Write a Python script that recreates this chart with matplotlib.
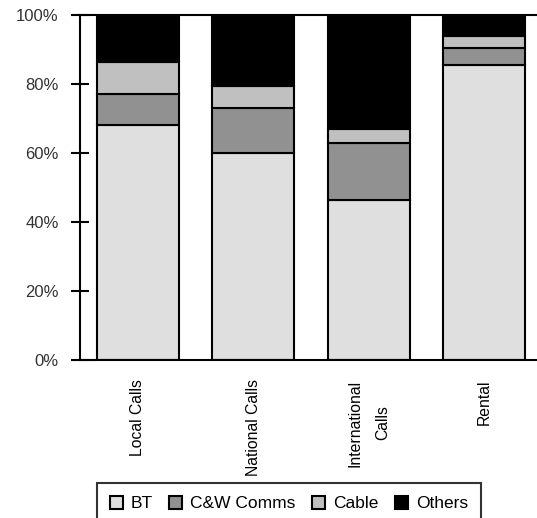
import matplotlib
matplotlib.use('Agg')
import matplotlib.pyplot as plt
import numpy as np

# Market share by segment (percent)
categories = ['Local Calls', 'National Calls', 'International\nCalls', 'Rental']
series_names = ['BT', 'C&W Comms', 'Cable', 'Others']
bt = [68, 60, 46.5, 85.5]
cw = [9, 13, 16.5, 5]
cable = [9.5, 6.5, 4, 3.5]
others = [13.5, 20.5, 33, 6]
colors = ['#dfdfdf', '#919191', '#c0c0c0', '#000000']

plt.rcParams['font.family'] = ['Liberation Sans', 'DejaVu Sans']

fig = plt.figure(figsize=(5.37, 5.18), dpi=100)
ax = fig.add_axes([80 / 537, 1 - 360 / 518, 462 / 537, 345 / 518])

x = np.arange(len(categories))
bottom = np.zeros(len(categories))
handles = []
for vals, name, col in zip([bt, cw, cable, others], series_names, colors):
    b = ax.bar(x, vals, width=0.71, bottom=bottom, color=col,
               edgecolor='black', linewidth=1.5, label=name)
    handles.append(b)
    bottom += np.array(vals)

ax.set_xlim(-0.5, 3.5)
ax.set_ylim(0, 100)
ax.set_yticks([0, 20, 40, 60, 80, 100])
ax.set_yticklabels(['0%', '20%', '40%', '60%', '80%', '100%'])
ax.tick_params(axis='y', direction='inout', length=13.5, width=1.5,
               pad=8.5, labelsize=12, labelcolor='#333333')
ax.set_xticks(x)
ax.set_xticklabels(categories, rotation=90, va='top', ha='center',
                   fontsize=11.3, multialignment='center', linespacing=2.0)
ax.tick_params(axis='x', length=0, pad=14)
for s in ['left', 'top', 'bottom']:
    ax.spines[s].set_linewidth(1.5)
ax.spines['right'].set_visible(False)

leg = fig.legend(handles=handles, labels=series_names, ncol=4,
                 loc='upper left', bbox_to_anchor=(97 / 537, 1 - 483 / 518),
                 fontsize=12.5, frameon=True, fancybox=False,
                 handlelength=0.75, handleheight=0.75, handletextpad=0.45,
                 columnspacing=0.95, borderpad=0.75, borderaxespad=0)
leg.get_frame().set_edgecolor('black')
leg.get_frame().set_linewidth(1.5)

fig.savefig('out.png', dpi=100)
